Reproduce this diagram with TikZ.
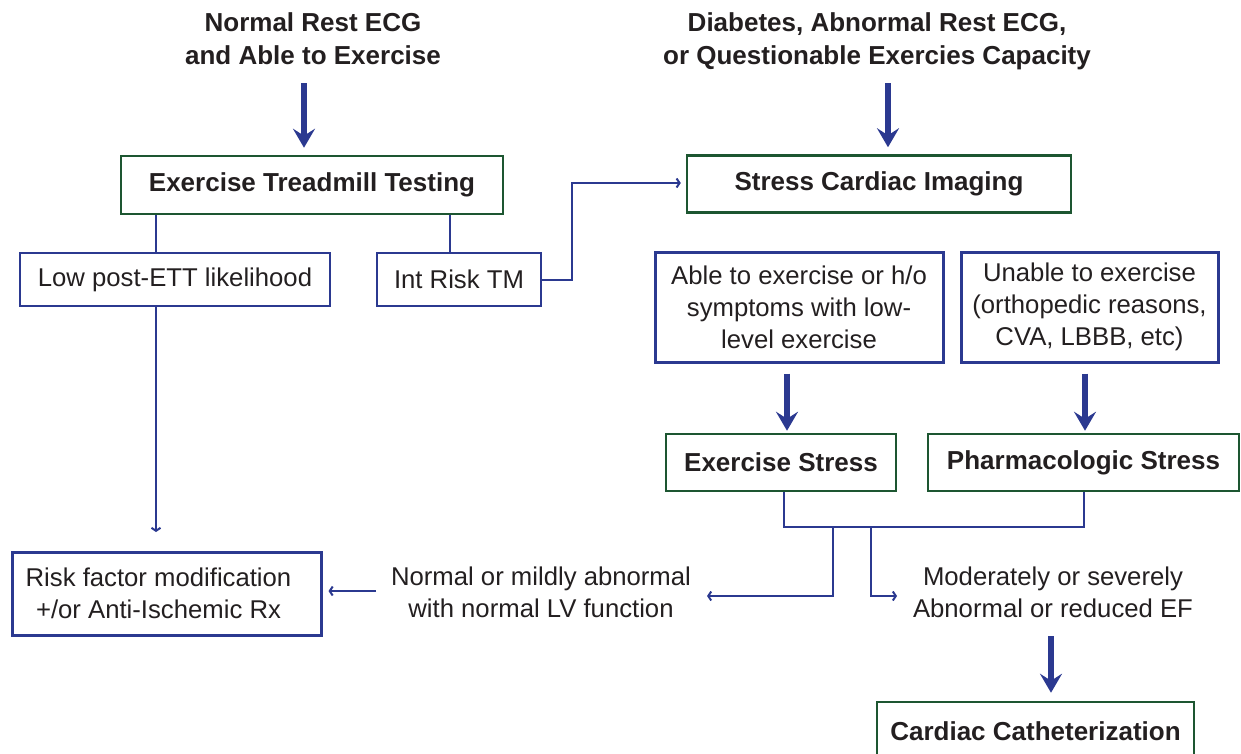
\documentclass[tikz,border=0pt]{standalone}
\usepackage{fontspec}
\setmainfont{Liberation Sans}
\usetikzlibrary{arrows.meta}
\definecolor{cblue}{RGB}{43,57,144}
\definecolor{cgreen}{RGB}{29,86,49}
\definecolor{ctext}{RGB}{35,31,32}
\tikzset{
  boldtxt/.style={font=\fontsize{26}{33}\selectfont\bfseries, text=ctext, align=center},
  regtxt/.style={font=\fontsize{25.7}{32}\selectfont, text=ctext, align=center},
  greenbox/.style={draw=cgreen, line width=2.5pt, inner sep=0pt, boldtxt},
  thinbox/.style={draw=cblue, line width=1.6pt, inner sep=0pt, regtxt},
  thickbox/.style={draw=cblue, line width=3pt, inner sep=0pt, regtxt},
  bigarrow/.style={draw=cblue, line width=6pt, -{Stealth[length=19pt,width=22pt,inset=7pt]}},
  conn/.style={draw=cblue, line width=2pt},
  connarrow/.style={draw=cblue, line width=2pt, -{Straight Barb[length=3pt,width=9pt]}}
}
\begin{document}
\begin{tikzpicture}[x=1pt,y=-1pt]
\useasboundingbox (0,0) rectangle (1241,753);
% titles
\node[boldtxt] (title1) at (313,38.5) {Normal Rest ECG\\and Able to Exercise};
\node[boldtxt] (title2) at (877,41) {Diabetes, Abnormal Rest ECG,\\or Questionable Exercies Capacity};
% boxes
\node[greenbox, minimum width=382pt, minimum height=58pt] (ett) at (312,185) {Exercise Treadmill Testing};
\node[greenbox, minimum width=384pt, minimum height=57pt] (sci) at (879,184) {Stress Cardiac Imaging};
\node[thinbox, minimum width=310pt, minimum height=53pt] (low) at (175,279.5) {Low post-ETT likelihood};
\node[thinbox, minimum width=164pt, minimum height=53pt] (int) at (459,279.5) {Int Risk TM};
\node[thickbox, minimum width=288pt, minimum height=110pt] (able) at (799,307) {Able to exercise or h/o\\symptoms with low-\\level exercise};
\node[thickbox, minimum width=257pt, minimum height=110pt] (unable) at (1089.5,307) {Unable to exercise\\(orthopedic reasons,\\CVA, LBBB, etc)};
\node[greenbox, minimum width=230pt, minimum height=57pt] (es) at (781,462.5) {Exercise Stress};
\node[greenbox, minimum width=311pt, minimum height=57pt] (ps) at (1083.5,462.5) {Pharmacologic Stress};
\node[thickbox, minimum width=309pt, minimum height=83pt] (risk) at (166.5,593.5) {Risk factor modification\hspace*{16pt}\\+/or Anti-Ischemic Rx\hspace*{16pt}};
\node[greenbox, minimum width=317pt, minimum height=58pt] (cath) at (1035.5,731) {Cardiac Catheterization};
% labels
\node[regtxt] (normal) at (541,592) {Normal or mildly abnormal\\with normal LV function};
\node[regtxt] (moderate) at (1053,592) {Moderately or severely\\Abnormal or reduced EF};
% coordinates
\coordinate (a1) at (304,83);
\coordinate (a2) at (888,83);
\coordinate (lowend) at (156,532);
\coordinate (elbow) at (572,183);
\coordinate (bl) at (784,527);
\coordinate (br) at (1084,527);
\coordinate (n1) at (833,527);
\coordinate (n2) at (871,527);
\coordinate (tipN) at (707,596);
\coordinate (tipM) at (897,596);
\coordinate (nstart) at (376,591);
\coordinate (cstart) at (1051,636);
% connectors
\draw[bigarrow] (a1) -- ([yshift=7pt]ett.north -| a1);
\draw[bigarrow] (a2) -- ([yshift=7pt]sci.north -| a2);
\draw[conn] ([xshift=-19pt]low.north) -- ([xshift=-19pt]low.north |- ett.south);
\draw[conn] ([xshift=-9pt]int.north) -- ([xshift=-9pt]int.north |- ett.south);
\draw[connarrow] ([xshift=-19pt]low.south) -- (lowend);
\draw[connarrow] (int.east) -| (elbow) -- ([xshift=-5pt]sci.west |- elbow);
\draw[bigarrow, shorten <=10pt, shorten >=2pt] ([xshift=-12pt]able.south) -- ([xshift=-12pt]able.south |- es.north);
\draw[bigarrow, shorten <=10pt, shorten >=2pt] ([xshift=-4.5pt]unable.south) -- ([xshift=-4.5pt]unable.south |- ps.north);
\draw[conn] (es.south -| bl) -- (bl) -- (br) -- (ps.south -| br);
\draw[connarrow] (n1) |- (tipN);
\draw[connarrow] (n2) |- (tipM);
\draw[connarrow] (nstart) -- ([xshift=6pt]risk.east |- nstart);
\draw[bigarrow] (cstart) -- ([yshift=8pt]cath.north -| cstart);
\end{tikzpicture}
\end{document}
